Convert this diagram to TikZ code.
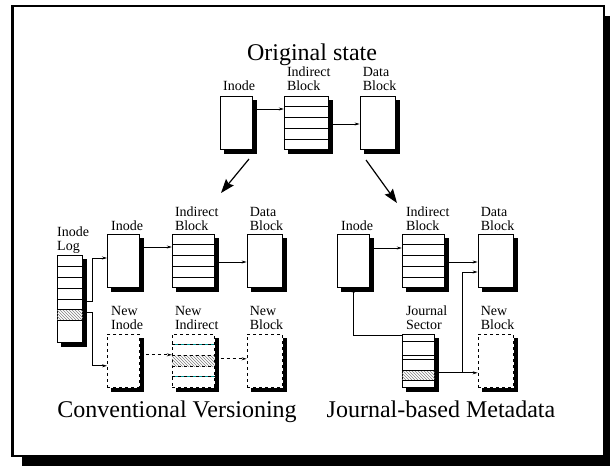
\documentclass[tikz,border=0pt]{standalone}
\usepackage{fontspec}
\setmainfont{Liberation Serif}
\usetikzlibrary{positioning, arrows.meta, patterns, calc}
\tikzset{
    blk/.style={draw, fill=white, line width=0.8pt, inner sep=0pt, minimum height=53pt}, % a disk block
    newblk/.style={blk, dashed}, % a block that gets written anew
    blkshadow/.style={fill=black}, % the black shadow along a block
    lbl/.style={anchor=south west, align=left, inner sep=0pt, text depth=0pt, font=\fontsize{14}{14}\selectfont}, % the text over a block
    headline/.style={anchor=base, inner sep=0pt, font=\fontsize{24}{28}\selectfont}, % the big titles
    link/.style={-{Stealth[length=5pt, width=3pt]}, line width=0.7pt}, % pointer from block to block
    bigarrow/.style={-{Stealth[length=14pt, width=10pt, inset=2pt]}, line width=1.2pt}, % the two big arrows
    hatch/.style={pattern=north west lines, pattern color=gray}, % the changed entry
}
\begin{document}
\begin{tikzpicture}[x=1pt, y=-1pt]
    \useasboundingbox (0,0) rectangle (610,466);
    % frame with its shadow
    \fill[blkshadow] (22,15.5) rectangle (613.5,465.5);
    \draw[line width=2.5pt, fill=white] (12.5,6) rectangle (604,456);

    % original state
    \node[headline] (t0) at (312,60) {Original state};
    \node[blk, minimum width=32pt, anchor=north west] (ino0) at (220,96) {};
    \node[blk, minimum width=44pt, right=31pt of ino0] (ind0) {};
    \node[blk, minimum width=35pt, right=31pt of ind0] (dat0) {};
    \node[lbl] (l-ino0) at ([shift={(3pt,5pt)}]ino0.north west) {Inode};
    \node[lbl] (l-ind0) at ([shift={(3pt,5pt)}]ind0.north west) {Indirect\\Block};
    \node[lbl] (l-dat0) at ([shift={(3pt,5pt)}]dat0.north west) {Data\\Block};

    % conventional versioning
    \node[blk, minimum width=25pt, minimum height=87pt, anchor=north west] (log) at (57,255) {};
    \node[blk, minimum width=32pt, anchor=north west] (ino1) at (107,234) {};
    \node[blk, minimum width=42pt, right=32pt of ino1] (ind1) {};
    \node[blk, minimum width=35pt, right=32pt of ind1] (dat1) {};
    \node[newblk, minimum width=32pt, below=46pt of ino1] (newino) {};
    \node[newblk, minimum width=42pt, below=46pt of ind1] (newind) {};
    \node[newblk, minimum width=35pt, below=46pt of dat1] (newdat1) {};
    \node[lbl] (l-log) at ([shift={(0pt,4pt)}]log.north west) {Inode\\Log};
    \node[lbl] (l-ino1) at ([shift={(4pt,3pt)}]ino1.north west) {Inode};
    \node[lbl] (l-ind1) at ([shift={(3pt,3pt)}]ind1.north west) {Indirect\\Block};
    \node[lbl] (l-dat1) at ([shift={(3pt,3pt)}]dat1.north west) {Data\\Block};
    \node[lbl] (l-newino) at ([shift={(4pt,4pt)}]newino.north west) {New\\Inode};
    \node[lbl] (l-newind) at ([shift={(3pt,4pt)}]newind.north west) {New\\Indirect};
    \node[lbl] (l-newdat1) at ([shift={(3pt,4pt)}]newdat1.north west) {New\\Block};
    \node[headline] (t1) at (177,417) {Conventional Versioning};

    % journal-based metadata
    \node[blk, minimum width=32pt, anchor=north west] (ino2) at (337,234) {};
    \node[blk, minimum width=42pt, right=32pt of ino2] (ind2) {};
    \node[blk, minimum width=35pt, right=33pt of ind2] (dat2) {};
    \node[blk, minimum width=32pt, below=46pt of ind2.south west, anchor=north west] (jrn) {};
    \node[newblk, minimum width=35pt, below=46pt of dat2] (newdat2) {};
    \node[lbl] (l-ino2) at ([shift={(4pt,3pt)}]ino2.north west) {Inode};
    \node[lbl] (l-ind2) at ([shift={(4pt,3pt)}]ind2.north west) {Indirect\\Block};
    \node[lbl] (l-dat2) at ([shift={(3pt,3pt)}]dat2.north west) {Data\\Block};
    \node[lbl] (l-jrn) at ([shift={(4pt,4pt)}]jrn.north west) {Journal\\Sector};
    \node[lbl] (l-newdat2) at ([shift={(3pt,4pt)}]newdat2.north west) {New\\Block};
    \node[headline] (t2) at (441,417) {Journal-based Metadata};

    % black shadows along the right and bottom of each block
    \foreach \nm in {ino0, ind0, dat0, log, ino1, ind1, dat1, newino, newind, newdat1, ino2, ind2, dat2, jrn, newdat2} {
        \path (\nm.north east) coordinate (ne) (\nm.south east) coordinate (se) (\nm.south west) coordinate (sw);
        \fill[blkshadow] ($(ne)+(0.4pt,-4pt)$) rectangle ($(se)+(4.4pt,-4.4pt)$);
        \fill[blkshadow] ($(sw)+(4pt,-0.4pt)$) rectangle ($(se)+(4.4pt,-4.4pt)$);
    }

    % hatched entries
    \fill[hatch] ($(log.north west)!0.625!(log.south west)$) rectangle ($(log.north east)!0.75!(log.south east)$);
    \fill[hatch] ($(newind.north west)!0.4!(newind.south west)$) rectangle ($(newind.north east)!0.6!(newind.south east)$);
    \fill[hatch] ($(jrn.north west)!0.68!(jrn.south west)$) rectangle ($(jrn.north east)!0.87!(jrn.south east)$);

    % rows inside the blocks
    \foreach \nm in {ind0, ind1, ind2}
        \foreach \f in {0.2, 0.4, 0.6, 0.8}
            \draw[line width=0.8pt] ($(\nm.north west)!\f!(\nm.south west)$) -- ($(\nm.north east)!\f!(\nm.south east)$);
    \foreach \f in {0.125, 0.25, 0.375, 0.5, 0.625, 0.75}
        \draw[line width=0.8pt] ($(log.north west)!\f!(log.south west)$) -- ($(log.north east)!\f!(log.south east)$);
    \foreach \f in {0.15, 0.40, 0.47, 0.68, 0.87}
        \draw[line width=0.8pt] ($(jrn.north west)!\f!(jrn.south west)$) -- ($(jrn.north east)!\f!(jrn.south east)$);
    \foreach \f in {0.2, 0.8}
        \draw[teal!80!cyan, line width=1pt] ($(newind.north west)!\f!(newind.south west)$) -- ($(newind.north east)!\f!(newind.south east)$);
    \foreach \f in {0.2, 0.4, 0.6, 0.8}
        \draw[dashed, line width=0.8pt] ($(newind.north west)!\f!(newind.south west)$) -- ($(newind.north east)!\f!(newind.south east)$);

    % big arrows
    \coordinate (splitL) at (249,159);
    \coordinate (splitR) at (366,160);
    \coordinate (toL) at (221,193);
    \coordinate (toR) at (397,203);
    \draw[bigarrow] (splitL) -- (toL);
    \draw[bigarrow] (splitR) -- (toR);

    % pointers
    \draw
    ([yshift=-13pt]ino0.north east) edge[link] ([yshift=-13pt]ind0.north west)
    ([yshift=-28pt]ind0.north east) edge[link] ([yshift=-28pt]dat0.north west)
    ([yshift=-13pt]ino1.north east) edge[link] ([yshift=-13pt]ind1.north west)
    ([yshift=-28pt]ind1.north east) edge[link] ([yshift=-28pt]dat1.north west)
    ([yshift=-21pt]newino.north east) edge[link, dashed] ([yshift=-21pt]newind.north west)
    ([yshift=-25pt]newind.north east) edge[link, dashed] ([yshift=-25pt]newdat1.north west)
    ([yshift=-14pt]ino2.north east) edge[link] ([yshift=-14pt]ind2.north west)
    ([yshift=-28pt]ind2.north east) edge[link] ([yshift=-28pt]dat2.north west)
    ([yshift=-39pt]jrn.north east) edge[link] ([yshift=-39pt]newdat2.north west);
    \draw[link] ([yshift=-46pt]log.north east) -- ++(10pt,0) |- ([yshift=-24pt]ino1.north west);
    \draw[link] ([yshift=-57pt]log.north east) -- ++(10pt,0) |- ([yshift=-32pt]newino.north west);
    \draw[link] ([yshift=-2pt]jrn.north west) -| (ino2.south);
    \draw[link] ([shift={(28pt,-39pt)}]jrn.north east) |- ([yshift=-38pt]dat2.north west);
\end{tikzpicture}
\end{document}
